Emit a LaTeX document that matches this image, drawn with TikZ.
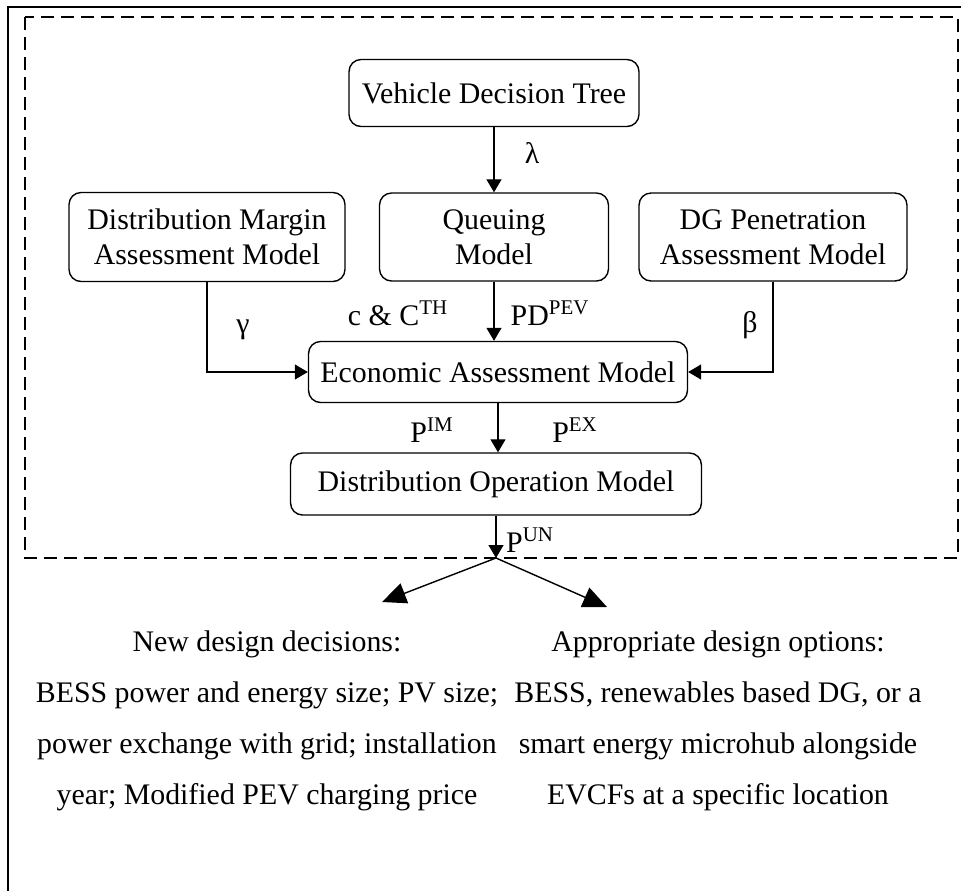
\documentclass[tikz,border=0pt]{standalone}
\usepackage{fontspec}
\setmainfont{Liberation Serif}
\usetikzlibrary{arrows.meta}

\begin{document}
\begin{tikzpicture}[x=0.02cm, y=-0.02cm,
    box/.style={draw, rectangle, rounded corners=0.24cm, line width=0.8pt,
                align=center, inner sep=0pt, font=\fontsize{17}{20}\selectfont},
    lbl/.style={font=\fontsize{17}{20}\selectfont},
    outcome/.style={align=center, font=\fontsize{17}{29}\selectfont},
    flow/.style={-{Triangle[length=0.26cm, width=0.3cm]}, line width=0.7pt},
    fork/.style={-{Triangle[length=0.48cm, width=0.42cm]}, line width=0.8pt}]
    \useasboundingbox (0,0) rectangle (961,890);
    \draw[line width=0.9pt] (8,7) rectangle (975,905);
    \draw[line width=0.8pt, dash pattern=on 0.26cm off 0.14cm] (25,17) rectangle (958,558);

    \node[box, minimum width=5.8cm, minimum height=1.34cm] (vdt) at (494,93) {Vehicle Decision Tree};
    \node[box, minimum width=4.58cm, minimum height=1.76cm] (que) at (494,237) {Queuing\\Model};
    \node[box, minimum width=5.52cm, minimum height=1.78cm] (dm) at (207,237) {Distribution Margin\\Assessment Model};
    \node[box, minimum width=5.36cm, minimum height=1.76cm] (dg) at (773,237) {DG Penetration\\Assessment Model};
    \node[box, minimum width=7.58cm, minimum height=1.22cm] (eco) at (498,372) {Economic Assessment Model};
    \node[box, minimum width=8.22cm, minimum height=1.24cm] (dom) at (496,484) {Distribution Operation Model};

    \coordinate (split) at (496,558);
    \coordinate (left) at (382,602);
    \coordinate (right) at (607,607);

    \draw[flow] (vdt) -- (que);
    \draw[flow] (que.south) -- (que.south |- eco.north);
    \draw[flow] (eco.south) -- (eco.south |- dom.north);
    \draw[flow] (dom.south) -- (split);
    \draw[flow] (dm.south) |- (eco.west);
    \draw[flow] (dg.south) |- (eco.east);
    \foreach \t in {left, right}
        \draw[fork] (split) -- (\t);

    \node[lbl] (lam) at (532,153) {λ};
    \node[lbl] (cth) at (398,313) {c \& C\textsuperscript{TH}};
    \node[lbl] (pd) at (550,313) {PD\textsuperscript{PEV}};
    \node[lbl] (gam) at (243,330) {γ};
    \node[lbl] (bet) at (750,325) {β};
    \node[lbl] (pim) at (432,430) {P\textsuperscript{IM}};
    \node[lbl] (pex) at (575,430) {P\textsuperscript{EX}};
    \node[lbl] (pun) at (530,540) {P\textsuperscript{UN}};

    \node[outcome] (dec) at (267,721) {New design decisions:\\BESS power and energy size; PV size;\\power exchange with grid; installation\\year; Modified PEV charging price};
    \node[outcome] (opt) at (718,721) {Appropriate design options:\\BESS, renewables based DG, or a\\smart energy microhub alongside\\EVCFs at a specific location};
\end{tikzpicture}
\end{document}
